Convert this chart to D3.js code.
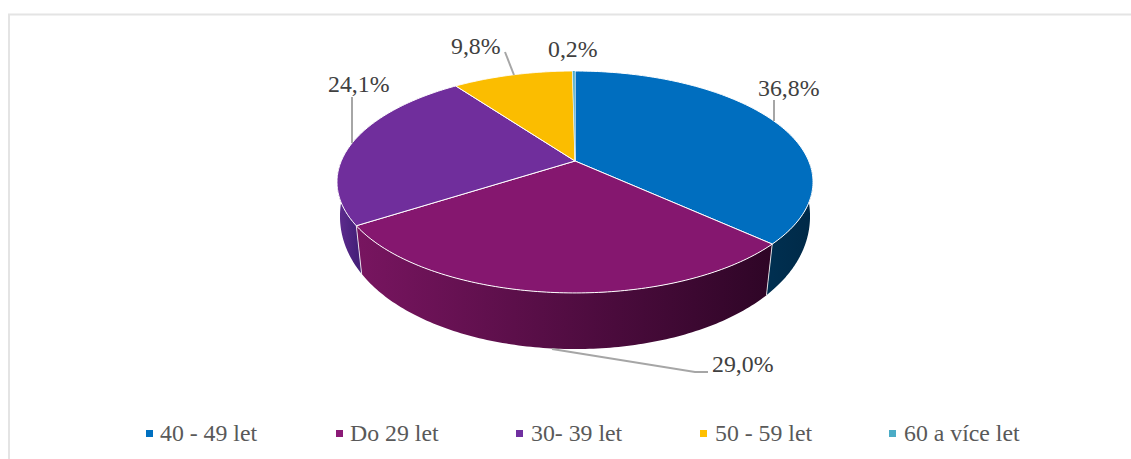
<!DOCTYPE html>
<html><head><meta charset="utf-8">
<script src="https://cdn.jsdelivr.net/npm/d3@7"></script>
<style>html,body{margin:0;padding:0;background:#fff}svg{display:block}</style></head>
<body><svg id="c" width="1131" height="459"></svg>
<script>
const categories = ["40 - 49 let","Do 29 let","30- 39 let","50 - 59 let","60 a více let"];
const shares = [36.8,29.0,24.1,9.8,0.2];
const labels = ["36,8%","29,0%","24,1%","9,8%","0,2%"];
const topColors = ["#006EBF","#85176F","#702E9C","#FBBD00","#4BACC6"];
const legendColors = ["#0070C0","#8B1A76","#7030A0","#FFC000","#4BACC6"];
const sideStops = [["#002F50","#002A48"],["#781560","#2E0526"],["#5C2A8C","#46207A"],["#806000","#806000"],["#2A6A7C","#2A6A7C"]];
const legendMarkX = [146,336,516,700,889];
const legendTextX = [160,350,531,715,904];
const leaders = [[[774,121],[774,100]],[[552,349],[695,372],[708,372]],[[352,143],[352,97]],[[514,75],[505,52]],[]];
const labelPos = [[758,96],[712,372],[328,92],[451,54],[548,57]];

const svg = d3.select("#c");
const defs = svg.append("defs");
const F = {cx:575, cy:161, a:233.7, b:107, kx:0.189, ky:0.189};
const R = {cx:575, cy:193.5, a:232, b:140, kx:0.16, ky:0.1};
const project = (P,t)=>{const u=Math.sin(t),v=-Math.cos(t);return [P.cx+P.a*u/(1-P.kx*v),P.cy+P.b*v/(1-P.ky*v)];};
const line = d3.line();
const arcs = d3.pie().sort(null).value(d=>d)(shares);
const sample = (P,s,e)=>d3.range(0,121).map(i=>project(P,s+(e-s)*i/120));

svg.append("path").attr("d","M9 459V14.5H1131").attr("fill","none").attr("stroke","#e4e4e4").attr("stroke-width",2);

const vis0=Math.PI/2+0.02, vis1=Math.PI*1.5-0.02;
arcs.forEach((d,i)=>{
  const s=Math.max(d.startAngle,vis0), e=Math.min(d.endAngle,vis1);
  if(e<=s) return;
  const A=project(F,s),B=project(F,e);
  const id="g"+i;
  const g=defs.append("linearGradient").attr("id",id).attr("gradientUnits","userSpaceOnUse")
    .attr("x1",Math.min(A[0],B[0])).attr("x2",Math.max(A[0],B[0])).attr("y1",0).attr("y2",0);
  g.append("stop").attr("offset",0).attr("stop-color",sideStops[i][0]);
  g.append("stop").attr("offset",1).attr("stop-color",sideStops[i][1]);
  const pts=sample(F,s,e).concat(sample(R,s,e).reverse());
  svg.append("path").attr("d",line(pts)+"Z").attr("fill",`url(#${id})`);
  svg.append("path").attr("d",line([project(F,s),project(R,s)])).attr("stroke","#fff").attr("stroke-width",1).attr("opacity",.8);
});

arcs.forEach((d,i)=>{
  const pts=[[F.cx,F.cy]].concat(sample(F,d.startAngle,d.endAngle));
  svg.append("path").attr("d",line(pts)+"Z").attr("fill",topColors[i]).attr("stroke","#fff").attr("stroke-width",i==4?0.4:1).attr("stroke-linejoin","round");
});

leaders.forEach(p=>{ if(p.length) svg.append("path").attr("d",line(p)).attr("fill","none").attr("stroke","#a6a6a6").attr("stroke-width",2);});

labels.forEach((t,i)=>svg.append("text").attr("x",labelPos[i][0]).attr("y",labelPos[i][1])
  .attr("font-family","'Liberation Serif'").attr("font-size",23.8).attr("fill","#404040").text(t));

categories.forEach((t,i)=>{
  svg.append("rect").attr("x",legendMarkX[i]).attr("y",430).attr("width",7).attr("height",7).attr("fill",legendColors[i]);
  svg.append("text").attr("x",legendTextX[i]).attr("y",441).attr("font-family","'Liberation Serif'")
    .attr("font-size",23.8).attr("fill","#595959").text(t);
});
</script></body></html>
